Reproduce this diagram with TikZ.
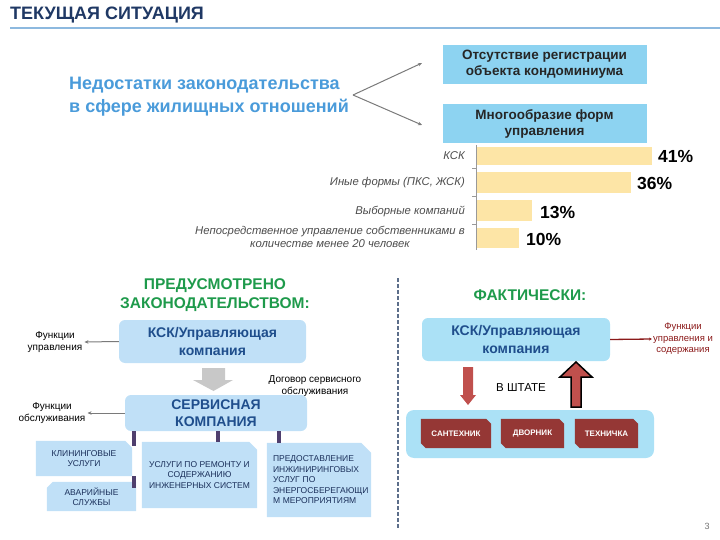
\documentclass[tikz,border=0pt]{standalone}
\usepackage{fontspec}
\setmainfont{Liberation Sans}
\usetikzlibrary{arrows.meta,calc}
\pgfdeclarelayer{bg}
\pgfsetlayers{bg,main}
\definecolor{titleblue}{HTML}{1F3864}
\definecolor{ruleblue}{HTML}{8DB9DF}
\definecolor{bluetext}{HTML}{4A9BDA}
\definecolor{topbox}{HTML}{8DD3F1}
\definecolor{barfill}{HTML}{FDE5A6}
\definecolor{greentext}{HTML}{1E9A4B}
\definecolor{lightbox}{HTML}{C0E0F7}
\definecolor{cyanbox}{HTML}{ABE1F6}
\definecolor{navytext}{HTML}{1F4E8C}
\definecolor{subtext}{HTML}{1A2F5A}
\definecolor{connpurple}{HTML}{4F3F6E}
\definecolor{darkredtext}{HTML}{8B1A1A}
\definecolor{redbox}{HTML}{953735}
\definecolor{arrowred}{HTML}{C0504D}
\definecolor{dividercol}{HTML}{5C6E8A}
\definecolor{arrowgray}{HTML}{7A7A7A}
\definecolor{bigarrow}{HTML}{C8C8C8}
\newcommand{\fsz}[2]{\fontsize{#1}{#2}\selectfont}
\newcommand{\snipNE}[3]{\fill[#2] (#1.south west) -- (#1.north west) -- ([xshift=-#3]#1.north east) -- ([yshift=-#3]#1.north east) -- (#1.south east) -- cycle;}
\newcommand{\snipNW}[3]{\fill[#2] (#1.south west) -- ([yshift=-#3]#1.north west) -- ([xshift=#3]#1.north west) -- (#1.north east) -- (#1.south east) -- cycle;}
\newcommand{\snipDiag}[3]{\fill[#2] (#1.north west) -- ([xshift=-#3]#1.north east) -- ([yshift=-#3]#1.north east) -- (#1.south east) -- ([xshift=#3]#1.south west) -- ([yshift=#3]#1.south west) -- cycle;}
\begin{document}
\begin{tikzpicture}[x=1pt,y=-1pt,
  topbx/.style={fill=topbox, minimum width=204pt, minimum height=39pt, inner sep=0pt, align=center, font=\bfseries\fsz{13.5}{16}, text=black!85},
  catlabel/.style={anchor=east, inner sep=0pt, align=center, font=\itshape\fsz{11.3}{12.5}, text=black!70},
  pct/.style={anchor=west, inner sep=0pt, font=\bfseries\fsz{17.5}{19}},
  greenhead/.style={inner sep=0pt, align=center, font=\bfseries\fsz{15.5}{19}, text=greentext},
  kskbox/.style={rounded corners=6pt, minimum width=187pt, minimum height=43pt, inner sep=0pt, align=center, font=\bfseries\fsz{14}{18}, text=navytext},
  smalltxt/.style={inner sep=2pt, align=center, font=\fsz{10}{12}},
  subbox/.style={inner sep=0pt, align=center, font=\fsz{8.5}{10.5}, text=subtext},
  redbx/.style={minimum width=70pt, minimum height=29pt, inner sep=0pt, font=\bfseries\fsz{8}{10}, text=white},
  grayarr/.style={draw=arrowgray, line width=1pt, -{Stealth[length=4pt,width=3.5pt]}},
  conn/.style={draw=connpurple, line width=4pt}
]
\useasboundingbox (0,0) rectangle (720,540);

% title
\node[anchor=west, inner sep=0pt, font=\bfseries\fsz{18}{20}, text=titleblue] (title) at (10,15) {ТЕКУЩАЯ СИТУАЦИЯ};
\draw[ruleblue, line width=2pt] (10,28) -- (720,28);

% shortcomings
\node[anchor=west, inner sep=0pt, align=left, font=\bfseries\fsz{18}{23}, text=bluetext] (nedo) at (69,97) {Недостатки законодательства\\в сфере жилищных отношений};
\node[topbx] (b1) at (544.5,64.5) {Отсутствие регистрации\\объекта кондоминиума};
\node[topbx] (b2) at (544.5,123.5) {Многообразие форм\\управления};
\coordinate (jn) at (353,95);
\coordinate (t1) at (422,63);
\coordinate (t2) at (422,125);
\draw[grayarr] (jn) -- (t1);
\draw[grayarr] (jn) -- (t2);

% chart
\fill[barfill] (476,147) rectangle (652,165);
\fill[barfill] (476,172) rectangle (631,193);
\fill[barfill] (476,200) rectangle (532,221);
\fill[barfill] (476,228) rectangle (519,248);
\draw[black!40, line width=0.6pt] (476,145) -- (476,250);
\foreach \ty in {168,196,224} \draw[black!40, line width=0.6pt] (472,\ty) -- (476,\ty);
\node[pct] (p1) at (658,156) {41\%};
\node[pct] (p2) at (637,183) {36\%};
\node[pct] (p3) at (540,212) {13\%};
\node[pct] (p4) at (526,239) {10\%};
\node[catlabel] (c1) at (465,156) {КСК};
\node[catlabel] (c2) at (465,183) {Иные формы (ПКС, ЖСК)};
\node[catlabel] (c3) at (465,211) {Выборные компаний};
\node[catlabel] (c4) at (465,237) {Непосредственное управление собственниками в\\количестве менее 20 человек};

% divider
\draw[dividercol, line width=1.5pt, dash pattern=on 4pt off 2pt] (398,278) -- (398,528);

% headings
\node[greenhead] (hl) at (215,295) {ПРЕДУСМОТРЕНО\\ЗАКОНОДАТЕЛЬСТВОМ:};
\node[greenhead] (hr) at (530,295) {ФАКТИЧЕСКИ:};

% left KSK
\node[kskbox, fill=lightbox] (lk) at (212.5,341.5) {КСК/Управляющая\\компания};
\node[smalltxt] (fu) at (55,342) {Функции\\управления};
\draw[grayarr] (lk.west) -- (fu.east);

% gray block arrow
\fill[bigarrow] (202,368) -- (225,368) -- (225,380) -- (233,380) -- (213.5,391) -- (193,380) -- (202,380) -- cycle;
\node[smalltxt] (dog) at (315,386) {Договор сервисного\\обслуживания};

% service company
\node[kskbox, fill=lightbox, minimum width=182pt, minimum height=36pt, font=\bfseries\fsz{14}{17}] (sc) at (216,413) {СЕРВИСНАЯ\\КОМПАНИЯ};
\node[smalltxt] (fo) at (52,413) {Функции\\обслуживания};
\draw[grayarr] (sc.west) -- (fo.east);

% sub boxes
\node[subbox, minimum width=96pt, minimum height=35pt] (kl) at (84,458.5) {КЛИНИНГОВЫЕ\\УСЛУГИ};
\node[subbox, minimum width=89pt, minimum height=29pt] (av) at (91.5,496.5) {АВАРИЙНЫЕ\\СЛУЖБЫ};
\node[subbox, minimum width=115pt, minimum height=66pt] (md) at (199.5,475) {УСЛУГИ ПО РЕМОНТУ И\\СОДЕРЖАНИЮ\\ИНЖЕНЕРНЫХ СИСТЕМ};
\node[subbox, minimum width=104pt, minimum height=74pt, align=left, text width=92pt] (rp) at (319,480) {ПРЕДОСТАВЛЕНИЕ\\ИНЖИНИРИНГОВЫХ\\УСЛУГ ПО\\ЭНЕРГОСБЕРЕГАЮЩИ\\М МЕРОПРИЯТИЯМ};
\begin{pgfonlayer}{bg}
\snipNE{kl}{lightbox}{7pt}
\snipNW{av}{lightbox}{6pt}
\snipNE{md}{lightbox}{8pt}
\snipNE{rp}{lightbox}{10pt}
\end{pgfonlayer}
\draw[conn] ([xshift=2pt]kl.north east |- sc.south) -- ([xshift=2pt,yshift=-5pt]kl.north east);
\draw[conn] ([xshift=2pt]kl.south east) -- ([xshift=-2pt,yshift=-6pt]av.north east);
\draw[conn] ([xshift=18pt]md.north |- sc.south) -- ([xshift=18pt]md.north);
\draw[conn] ([xshift=12pt]rp.north west |- sc.south) -- ([xshift=12pt]rp.north west);

% right KSK
\node[kskbox, fill=cyanbox, minimum width=188pt] (rk) at (516,339.5) {КСК/Управляющая\\компания};
\node[smalltxt, text=darkredtext, inner sep=1pt, font=\fsz{9.5}{11.5}] (fr) at (683,339) {Функции\\управления и\\содержания};
\draw[darkredtext, line width=1.3pt, -{Stealth[length=3pt,width=3pt]}] (rk.east) -- (fr.west);

% staff container
\begin{pgfonlayer}{bg}
\node[fill=cyanbox, rounded corners=8pt, minimum width=248pt, minimum height=48pt, inner sep=0pt] (ct) at (530,434) {};
\end{pgfonlayer}
\node[redbx] (s1) at (456,433.5) {САНТЕХНИК};
\node[redbx, minimum width=63pt] (s2) at (532.5,433.5) {ДВОРНИК};
\node[redbx, minimum width=63pt] (s3) at (606.5,433.5) {ТЕХНИЧКА};
\begin{pgfonlayer}{bg}
\snipDiag{s1}{redbox}{5pt}
\snipDiag{s2}{redbox}{5pt}
\snipDiag{s3}{redbox}{5pt}
\end{pgfonlayer}

% red arrows
\fill[arrowred] (463,367) -- (473,367) -- (473,395) -- (476,395) -- (468,405) -- (460,395) -- (463,395) -- cycle;
\filldraw[fill=arrowred, draw=black, line width=1.5pt] (571,407) -- (581,407) -- (581,377) -- (592,377) -- (576,362) -- (560,377) -- (571,377) -- cycle;
\node[inner sep=0pt, font=\fsz{11.5}{13}] (st) at (521,388) {В ШТАТЕ};

% page number
\node[inner sep=0pt, font=\fsz{9}{10}, text=black!55] (pg) at (707,526) {3};
\end{tikzpicture}
\end{document}
